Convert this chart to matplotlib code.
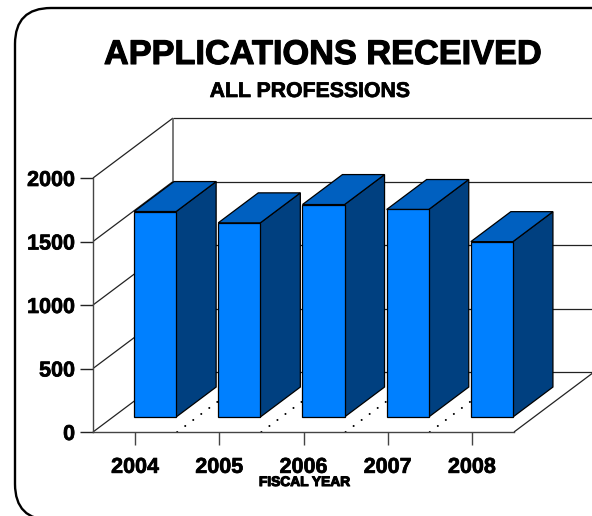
import matplotlib
matplotlib.use('Agg')
import matplotlib.pyplot as plt
import matplotlib.patheffects as pe
from matplotlib.patches import FancyBboxPatch
import numpy as np

# Data
years = ['2004', '2005', '2006', '2007', '2008']
applications = [1618, 1529, 1673, 1634, 1381]
y_ticks = [0, 500, 1000, 1500, 2000]

# depth of the 3d box, in data units (x = categories, y = applications)
depth_x = 0.95
depth_y = 472
bar_width = 0.5

front_color = '#0080FF'
top_color = '#0060C0'
side_color = '#004080'

plt.rcParams['font.family'] = ['Liberation Sans', 'DejaVu Sans']
plt.rcParams['font.weight'] = 'bold'

fig = plt.figure(figsize=(5.92, 5.16), dpi=100)

# background with the rounded frame, in pixels
bg = fig.add_axes([0, 0, 1, 1])
bg.set_xlim(0, 592)
bg.set_ylim(516, 0)
bg.axis('off')
bg.add_patch(FancyBboxPatch((15, 8), 640, 512, boxstyle='round,pad=0,rounding_size=36',
                            fc='white', ec='black', lw=1.7))

ax = fig.add_axes([93 / 592, (516 - 432) / 516, 421 / 592, 254 / 516])
ax.patch.set_alpha(0)
ax.set_xlim(-0.5, len(years) - 0.5)
ax.set_ylim(0, 2000)


def proj(x, y, d):
    # position d (0 = front, 1 = back) in the depth of the box
    return x + d * depth_x, y + d * depth_y


def box_line(x0, y0, d0, x1, y1, d1, **kw):
    px0, py0 = proj(x0, y0, d0)
    px1, py1 = proj(x1, y1, d1)
    ax.plot([px0, px1], [py0, py1], clip_on=False, solid_capstyle='butt', **kw)


xmin, xmax = ax.get_xlim()

# walls and floor
for v in y_ticks:
    box_line(xmin, v, 0, xmin, v, 1, color='#222222', lw=0.9, zorder=1)
    box_line(xmin, v, 1, xmax, v, 1, color='#222222', lw=0.9, zorder=1)
box_line(xmin, 0, 1, xmin, y_ticks[-1], 1, color='#555555', lw=1.1, zorder=1)
box_line(xmax, 0, 0, xmax, 0, 1, color='#222222', lw=0.9, zorder=1)

# dotted floor lines between the categories
for i in range(len(years) - 1):
    box_line(i + 0.5, 0, 0, i + 0.5, 0, 1, color='black', lw=1.5, linestyle=(0, (0.01, 4.8)),
             dash_capstyle='round', zorder=1.5)

# bars
for i, val in enumerate(applications):
    x0, x1 = i - bar_width / 2, i + bar_width / 2
    front = [proj(x0, 0, 0.25), proj(x1, 0, 0.25), proj(x1, val, 0.25), proj(x0, val, 0.25)]
    side = [proj(x1, 0, 0.25), proj(x1, 0, 0.75), proj(x1, val, 0.75), proj(x1, val, 0.25)]
    top = [proj(x0, val, 0.25), proj(x1, val, 0.25), proj(x1, val, 0.75), proj(x0, val, 0.75)]
    z = 2 + i * 0.1
    for poly, col in [(side, side_color), (top, top_color), (front, front_color)]:
        xs, ys = zip(*poly)
        ax.fill(xs, ys, facecolor=col, edgecolor='black', lw=0.9, clip_on=False, zorder=z)

for s in ['top', 'right']:
    ax.spines[s].set_visible(False)
for s in ['left', 'bottom']:
    ax.spines[s].set_color('#444444')
    ax.spines[s].set_linewidth(1.0)

ax.set_xticks(np.arange(len(years)))
ax.set_xticklabels(years)
ax.set_yticks(y_ticks)
ax.tick_params(axis='x', length=9.4, width=1.0, color='#444444', labelsize=15.5, pad=8.5)
ax.tick_params(axis='y', length=9.4, width=1.0, color='#222222', labelsize=15.5, pad=3.5)

bold = [pe.withStroke(linewidth=0.5, foreground='black')]
for lab in ax.get_xticklabels() + ax.get_yticklabels():
    lab.set_path_effects(bold)

# titles, placed in pixels on the background axes
bg.text(322, 55.5, 'APPLICATIONS RECEIVED', fontsize=24.7, ha='center', va='center',
        path_effects=[pe.withStroke(linewidth=0.8, foreground='black')])
bg.text(309.5, 91.5, 'ALL PROFESSIONS', fontsize=15.3, ha='center', va='center', path_effects=bold)
bg.text(304.5, 482, 'FISCAL YEAR', fontsize=9.9, ha='center', va='center',
        path_effects=[pe.withStroke(linewidth=0.8, foreground='black')])

fig.savefig('out.png', dpi=100)
